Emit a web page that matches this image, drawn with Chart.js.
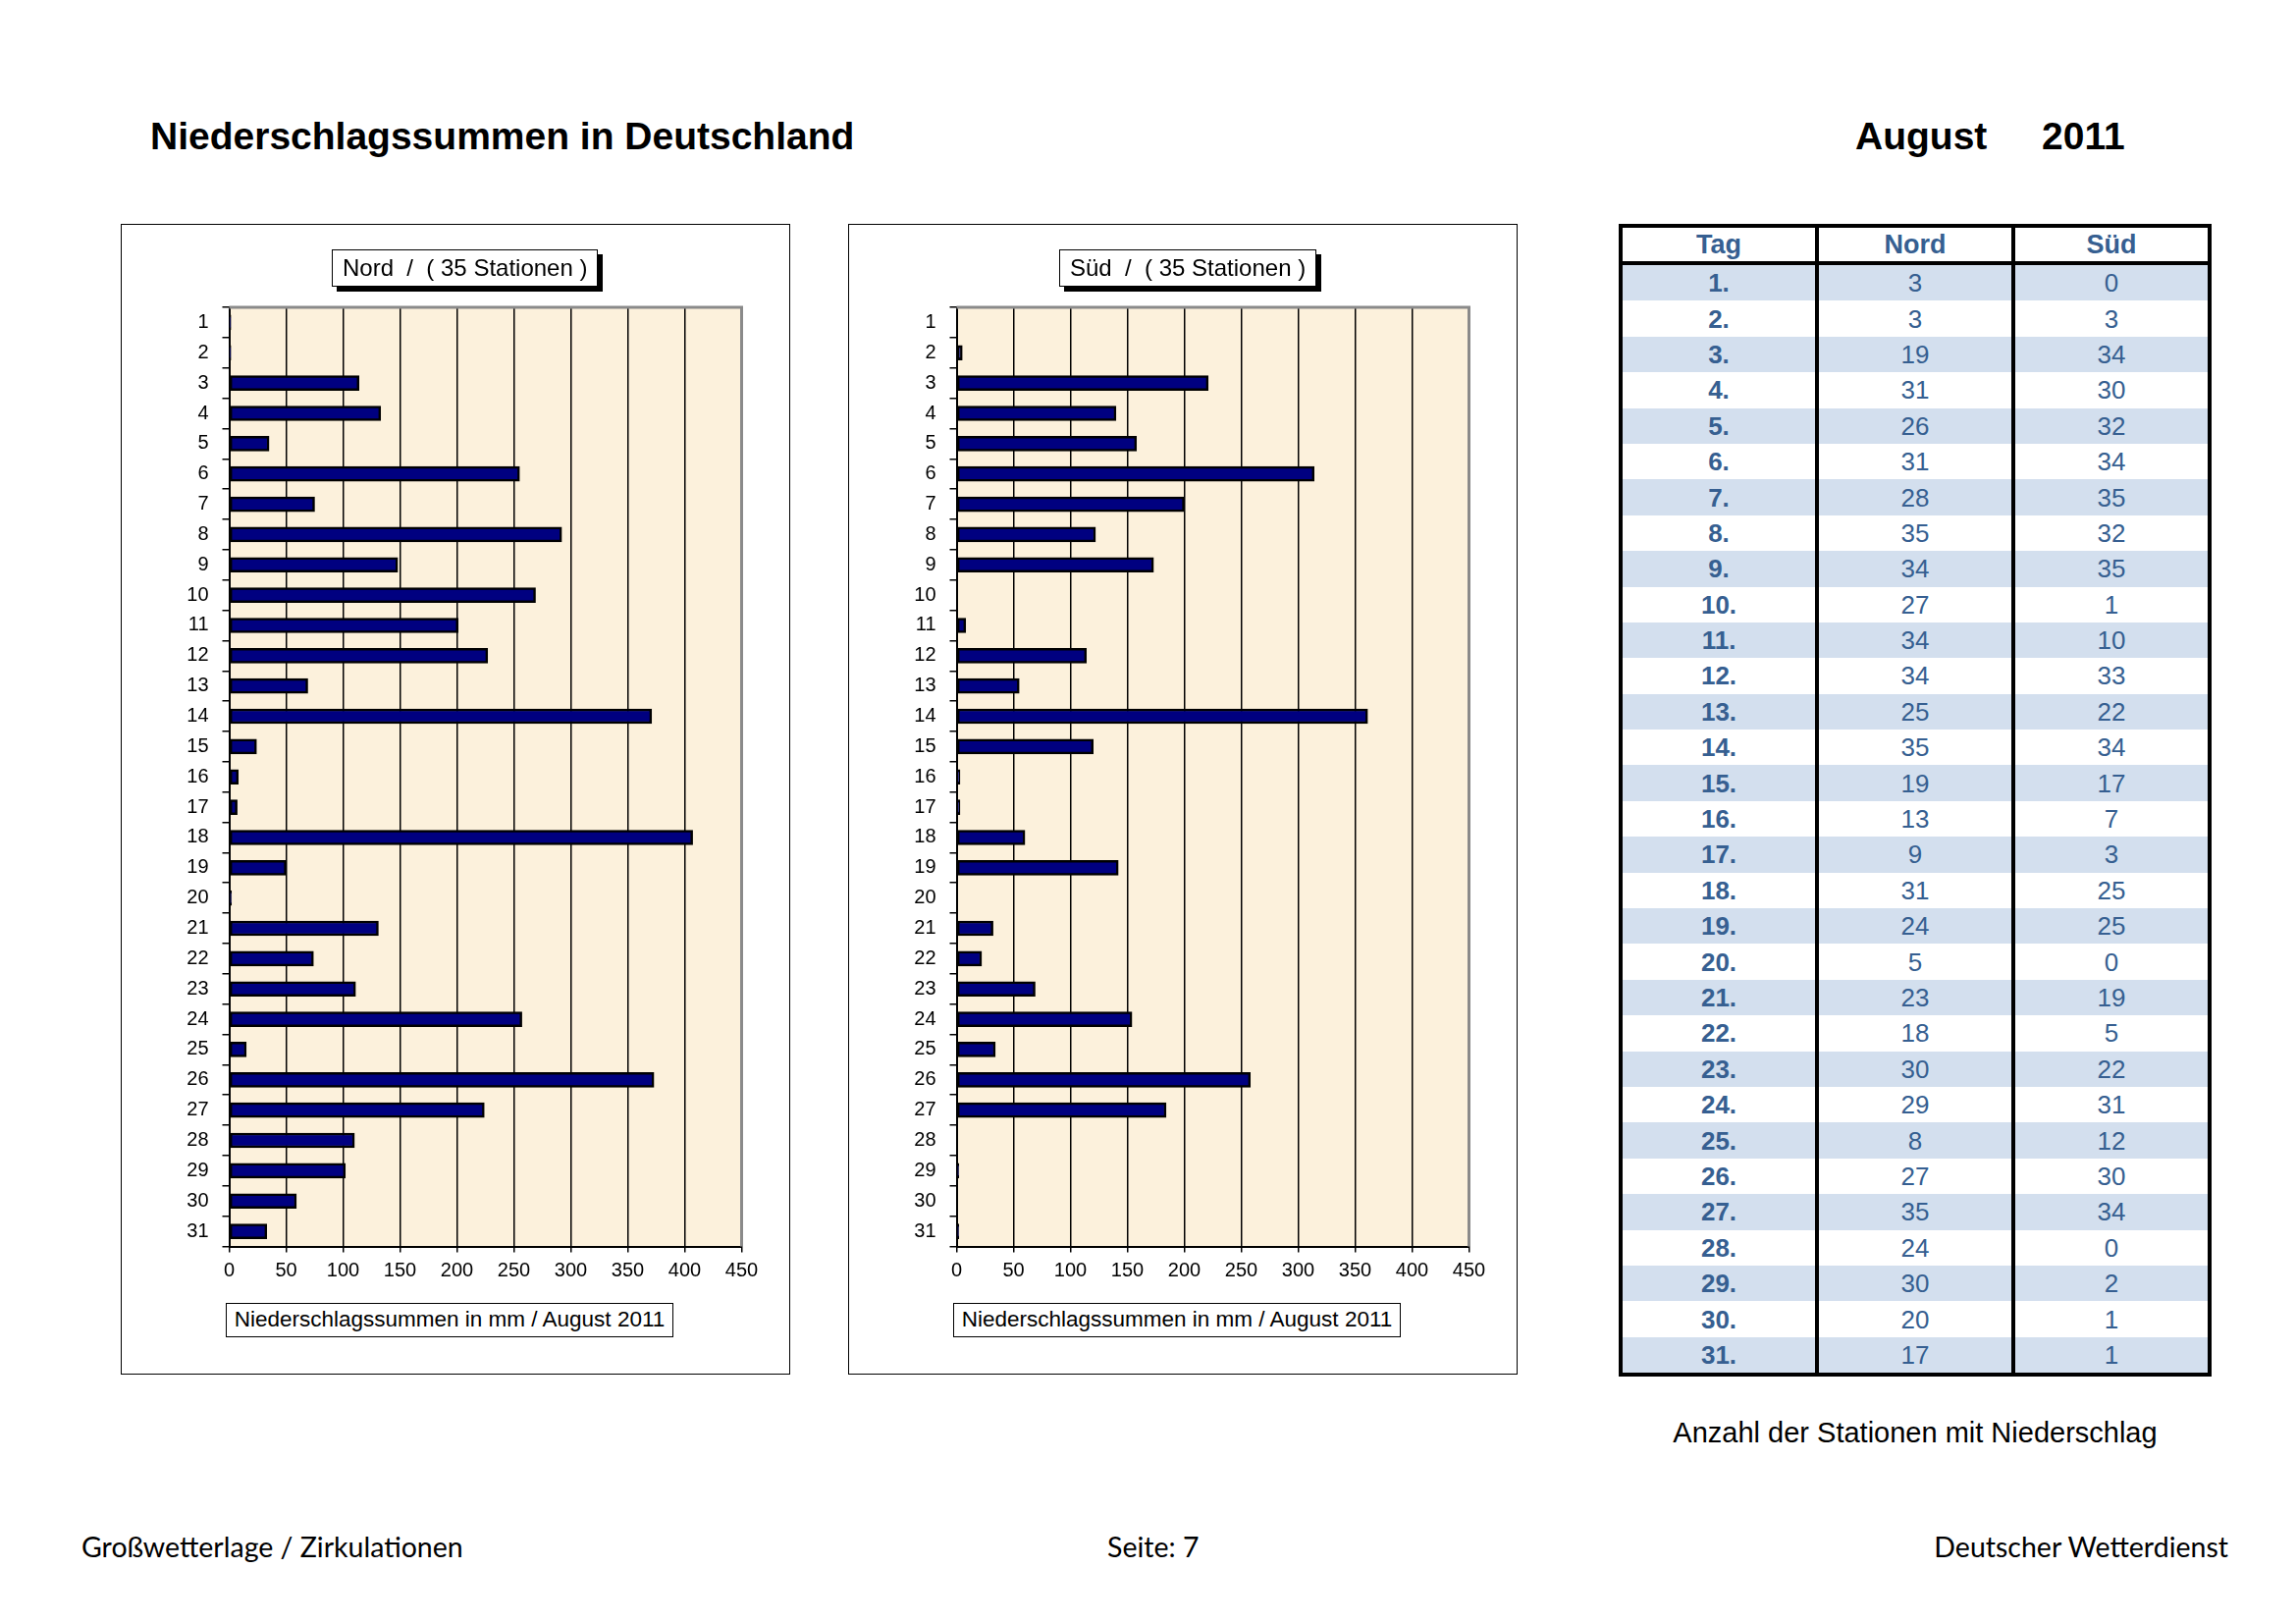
<!DOCTYPE html>
<html lang="de">
<head>
<meta charset="utf-8">
<title>Niederschlagssummen in Deutschland - August 2011</title>
<script src="https://cdn.jsdelivr.net/npm/chart.js@4.4.0/dist/chart.umd.min.js"></script>
<style>
  html, body { margin: 0; padding: 0; background: #fff; }
  body { width: 2339px; height: 1653px; position: relative; overflow: hidden;
         font-family: 'Liberation Sans', Arial, sans-serif; color: #000; }
  .abs { position: absolute; white-space: pre; line-height: 1; }
  .titel { font-weight: bold; font-size: 39px; top: 119px; }
  .chartbox { position: absolute; top: 228px; width: 682px; height: 1172px;
              border: 1.5px solid #000; box-sizing: border-box; background: #fff; }
  .chartbox canvas { position: absolute; left: 0; top: 0; }
  .kopf { position: absolute; left: 214px; top: 25px; height: 38px; padding: 0 10px;
          border: 1.5px solid #000; background: #fff; box-shadow: 5px 5px 0 #000;
          font-size: 24px; line-height: 35px; white-space: pre; box-sizing: border-box; }
  .achse { position: absolute; left: 106px; top: 1098px; width: 456px; height: 35px;
           border: 1.5px solid #000; background: #fff; box-sizing: border-box;
           font-size: 22.5px; line-height: 32px; text-align: center; white-space: pre; }
  table.stat { position: absolute; left: 1649px; top: 228px; width: 604px;
               border-collapse: collapse; table-layout: fixed; color: #365F91;
               border: 4px solid #000; }
  table.stat th, table.stat td { text-align: center; padding: 0; border-left: 4px solid #000;
                                 line-height: 1; }
  table.stat th { height: 34px; font-size: 27px; font-weight: bold; border-bottom: 4px solid #000; }
  table.stat td { height: 36.4px; font-size: 26px; }
  table.stat td.tag { font-weight: bold; }
  table.stat tr.streifen td { background: #D3DFEE; }
  .fuss { font-family: Lato, 'Open Sans', sans-serif; font-size: 28.5px; top: 1561px; }
</style>
</head>
<body>

<div class="abs titel" style="left:153px;">Niederschlagssummen in Deutschland</div>
<div class="abs titel" style="left:1890px;">August</div>
<div class="abs titel" style="left:2080px;">2011</div>

<div class="chartbox" style="left:123px;">
  <canvas id="nordChart" width="679" height="1169"></canvas>
  <div class="kopf">Nord  /  ( 35 Stationen )</div>
  <div class="achse">Niederschlagssummen in mm / August 2011</div>
</div>

<div class="chartbox" style="left:864px;">
  <canvas id="suedChart" width="679" height="1169"></canvas>
  <div class="kopf">Süd  /  ( 35 Stationen )</div>
  <div class="achse">Niederschlagssummen in mm / August 2011</div>
</div>

<table class="stat" id="tabelle"></table>

<div class="abs" style="left:1649px; width:604px; top:1445px; font-size:29px; text-align:center;">Anzahl der Stationen mit Niederschlag</div>

<div class="abs fuss" style="left:83px;">Großwetterlage / Zirkulationen</div>
<div class="abs fuss" style="left:1128px;">Seite: 7</div>
<div class="abs fuss" style="right:69px;">Deutscher Wetterdienst</div>

<script>
// Tage im August
const tage = ['1', '2', '3', '4', '5', '6', '7', '8', '9', '10', '11', '12', '13', '14', '15', '16',
              '17', '18', '19', '20', '21', '22', '23', '24', '25', '26', '27', '28', '29', '30', '31'];

// Niederschlagssummen in mm
const nordSumme = [1.5, 1.5, 114, 133, 35, 255, 75, 292, 148, 269, 201, 227, 69, 371, 24, 8,
                   7, 407, 50, 2, 131, 74, 111, 257, 15, 373, 224, 110, 102, 59, 33];
const suedSumme = [0, 5, 221, 140, 158, 314, 200, 122, 173, 0, 8, 114, 55, 361, 120, 3,
                   3, 60, 142, 0, 32, 22, 69, 154, 34, 258, 184, 0, 2, 0, 2];

// Anzahl der Stationen mit Niederschlag
const nordStationen = [3, 3, 19, 31, 26, 31, 28, 35, 34, 27, 34, 34, 25, 35, 19, 13,
                       9, 31, 24, 5, 23, 18, 30, 29, 8, 27, 35, 24, 30, 20, 17];
const suedStationen = [0, 3, 34, 30, 32, 34, 35, 32, 35, 1, 10, 33, 22, 34, 17, 7,
                       3, 25, 25, 0, 19, 5, 22, 31, 12, 30, 34, 0, 2, 1, 1];

// x-Achse
const xMax = 450;
const xSchritt = 50;

Chart.defaults.font.family = "'Liberation Sans', Arial, sans-serif";
Chart.defaults.color = '#000';

// Hintergrund der Zeichenfläche und grauer Rahmen oben/rechts
const flaechePlugin = {
    id: 'flaeche',
    beforeDraw(chart) {
        const { ctx, chartArea: a } = chart;
        ctx.save();
        ctx.fillStyle = '#FCF1DC';
        ctx.fillRect(a.left, a.top, a.right - a.left, a.bottom - a.top);
        ctx.restore();
    },
    afterDraw(chart) {
        const { ctx, chartArea: a } = chart;
        ctx.save();
        ctx.strokeStyle = '#8a8a8a';
        ctx.lineWidth = 3;
        ctx.beginPath();
        ctx.moveTo(a.left, a.top);
        ctx.lineTo(a.right, a.top);
        ctx.lineTo(a.right, a.bottom);
        ctx.stroke();
        ctx.restore();
    }
};

function zeichneDiagramm(id, werte) {
    const ctx = document.getElementById(id).getContext('2d');
    return new Chart(ctx, {
        type: 'bar',
        data: {
            labels: tage,
            datasets: [{
                data: werte,
                backgroundColor: '#000080',
                borderColor: '#000',
                borderWidth: 2.5,
                borderSkipped: false,
                barThickness: 15
            }]
        },
        options: {
            indexAxis: 'y',
            responsive: false,
            animation: false,
            layout: { padding: { left: 0, top: 84, right: 47.5, bottom: 88.5 } },
            plugins: {
                legend: { display: false },
                tooltip: { enabled: false }
            },
            scales: {
                x: {
                    min: 0,
                    max: xMax,
                    afterFit(scale) { scale.height = 40; },
                    ticks: { stepSize: xSchritt, padding: 7, font: { size: 20 }, color: '#000' },
                    grid: { color: '#000', lineWidth: 1.5, tickLength: 6, drawOnChartArea: true },
                    border: { display: true, color: '#000', width: 2 }
                },
                y: {
                    afterFit(scale) { scale.width = 109.5; },
                    ticks: { autoSkip: false, padding: 14, font: { size: 20 }, color: '#000' },
                    grid: { offset: true, drawOnChartArea: false, drawTicks: true, tickLength: 7,
                            color: '#000', lineWidth: 1.5 },
                    border: { display: true, color: '#000', width: 2 }
                }
            }
        },
        plugins: [flaechePlugin]
    });
}

zeichneDiagramm('nordChart', nordSumme);
zeichneDiagramm('suedChart', suedSumme);

// Tabelle: Anzahl der Stationen mit Niederschlag
const tabelle = document.getElementById('tabelle');
let html = '<tr><th>Tag</th><th>Nord</th><th>Süd</th></tr>';
tage.forEach((t, i) => {
    html += '<tr' + (i % 2 === 0 ? ' class="streifen"' : '') + '>' +
            '<td class="tag">' + t + '.</td>' +
            '<td>' + nordStationen[i] + '</td>' +
            '<td>' + suedStationen[i] + '</td></tr>';
});
tabelle.innerHTML = html;
</script>
</body>
</html>
